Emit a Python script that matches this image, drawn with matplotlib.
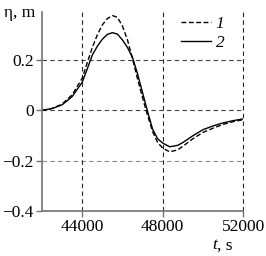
import matplotlib
matplotlib.use("Agg")
import matplotlib.pyplot as plt

t = [42000, 42500, 43000, 43500, 44000, 44250, 44500, 44750, 45000, 45250, 45500,
     45750, 46000, 46250, 46500, 46750, 47000, 47250, 47500, 47750, 48000, 48350,
     48750, 49000, 49500, 50000, 50500, 51000, 51500, 52000]
eta1 = [0.0, 0.008, 0.025, 0.062, 0.128, 0.19, 0.25, 0.30, 0.34, 0.365, 0.377,
        0.37, 0.335, 0.28, 0.205, 0.125, 0.05, -0.02, -0.085, -0.128, -0.150, -0.165,
        -0.157, -0.143, -0.113, -0.088, -0.071, -0.056, -0.045, -0.037]
eta2 = [0.0, 0.007, 0.022, 0.055, 0.112, 0.165, 0.22, 0.255, 0.283, 0.302, 0.309,
        0.303, 0.28, 0.25, 0.21, 0.145, 0.07, -0.005, -0.075, -0.113, -0.130, -0.145,
        -0.139, -0.128, -0.101, -0.077, -0.062, -0.050, -0.041, -0.034]
labels = ["1", "2"]
xticks = [44000, 48000, 52000]
yticks = [-0.4, -0.2, 0, 0.2]
ytick_labels = ["\u22120.4", "\u22120.2", "0", "0.2"]

plt.rcParams['font.family'] = ['Liberation Serif', 'DejaVu Serif']
plt.rcParams['font.size'] = 12

fig = plt.figure(figsize=(2.66, 2.56), dpi=100)
ax = fig.add_axes([0.158, 0.176, 0.756, 0.777])

ax.plot(t, eta1, color='black', lw=1.0, linestyle=(0, (3.5, 1.8)), label=labels[0])
ax.plot(t, eta2, color='black', lw=1.0, linestyle='-', label=labels[1])

ax.set_xlim(42000, 52000)
ax.set_ylim(-0.397, 0.391)
ax.set_xticks(xticks)
ax.set_xticklabels([str(x) for x in xticks])
ax.set_yticks(yticks)
ax.set_yticklabels(ytick_labels)

for y in [-0.2, 0, 0.2]:
    ax.axhline(y, color='0.25' if y != -0.2 else '0.55', lw=0.8, linestyle=(0, (4, 3)), zorder=0)
for x in xticks:
    ax.axvline(x, color='0.15', lw=0.8, linestyle=(0, (4, 3)), zorder=0, clip_on=False)

for s in ['top', 'right']:
    ax.spines[s].set_visible(False)
for s in ['left', 'bottom']:
    ax.spines[s].set_color('0.45')
    ax.spines[s].set_linewidth(1.2)
ax.tick_params(direction='out', length=4, width=1, color='0.45', pad=2, labelsize=12.5)

leg = ax.legend(loc='upper right', frameon=False, handlelength=1.8, handletextpad=0.3,
                borderaxespad=0.0, labelspacing=0.2, bbox_to_anchor=(0.94, 1.015))
for txt in leg.get_texts():
    txt.set_fontstyle('italic')
    txt.set_fontsize(12.5)

fig.text(0.015, 0.95, "\u03b7, m", fontsize=12.5, ha='left', va='center')
fig.text(0.815, 0.042, "t", fontsize=12.5, ha='right', va='center', style='italic')
fig.text(0.815, 0.042, ", s", fontsize=12.5, ha='left', va='center')

fig.savefig("out.png", dpi=100)
